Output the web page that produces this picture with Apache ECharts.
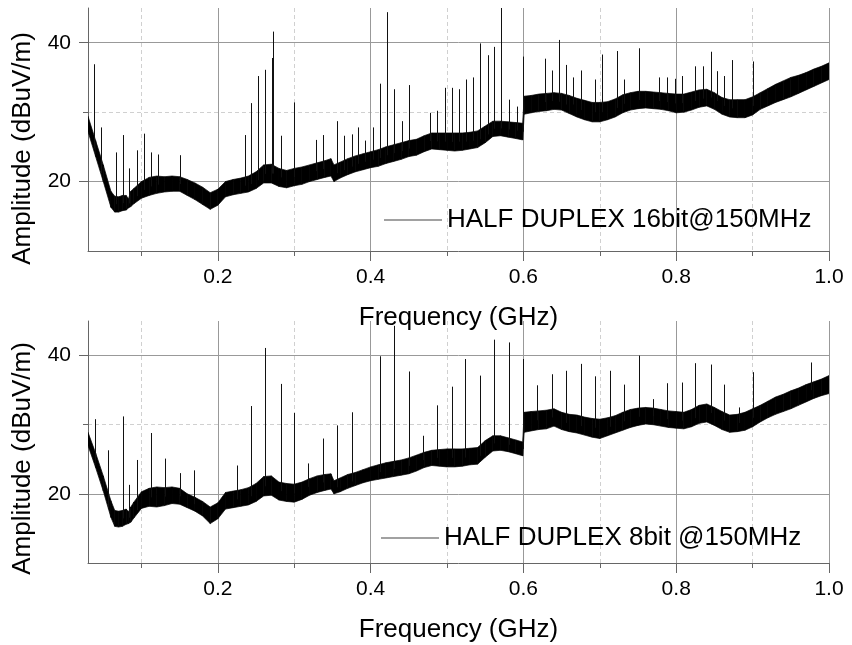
<!DOCTYPE html>
<html>
<head>
<meta charset="utf-8">
<script src="https://cdn.jsdelivr.net/npm/echarts@6/dist/echarts.min.js"></script>
<style>
html,body{margin:0;padding:0;background:#fff;}
#chart{width:852px;height:645px;}
</style>
</head>
<body>
<div id="chart"></div>
<script>
// ---------- DATA ----------
var bandFreq = [0.03,0.04,0.05,0.06,0.065,0.07,0.075,0.08,0.083,0.086,0.09,0.1,0.11,0.12,0.13,0.14,0.15,0.16,0.17,0.18,0.19,0.2,0.21,0.22,0.23,0.24,0.25,0.26,0.27,0.28,0.29,0.30,0.31,0.32,0.33,0.34,0.348,0.352,0.36,0.37,0.38,0.39,0.40,0.41,0.42,0.43,0.44,0.45,0.46,0.47,0.48,0.49,0.50,0.51,0.52,0.53,0.54,0.55,0.56,0.57,0.58,0.59,0.599,0.601,0.61,0.62,0.63,0.64,0.65,0.66,0.67,0.68,0.69,0.70,0.71,0.72,0.73,0.74,0.75,0.76,0.77,0.78,0.79,0.80,0.81,0.82,0.83,0.84,0.85,0.86,0.87,0.88,0.89,0.90,0.91,0.92,0.93,0.94,0.95,0.96,0.97,0.98,0.99,1.0];

var topLow  = [27.2,23.6,20.0,16.3,15.6,15.6,15.8,15.9,16.2,16.4,16.8,17.6,18.0,18.3,18.5,18.6,18.6,18.0,17.4,16.7,16.0,16.6,17.8,18.1,18.3,18.5,19.0,19.8,19.8,19.3,19.1,19.4,19.6,20.0,20.3,20.6,20.8,20.0,20.5,21.0,21.4,21.7,22.0,22.2,22.6,22.9,23.2,23.6,23.8,24.3,24.7,24.6,24.5,24.4,24.5,24.7,24.9,25.6,26.5,26.6,26.4,26.2,26.0,29.7,29.9,30.1,30.2,30.4,30.3,29.8,29.3,28.9,28.6,28.6,28.9,29.3,29.9,30.3,30.5,30.6,30.5,30.4,30.2,29.9,30.0,30.3,30.7,30.9,30.4,29.7,29.3,29.2,29.2,29.6,30.4,30.9,31.4,31.8,32.2,32.7,33.2,33.7,34.2,34.7];
var topHigh = [29.4,25.9,22.4,18.6,17.9,17.8,18.0,18.0,17.5,18.6,19.0,20.0,20.6,20.8,20.7,20.8,20.7,20.3,19.8,19.2,18.4,18.9,20.0,20.3,20.5,20.8,21.4,22.4,22.5,21.9,21.6,21.9,22.1,22.4,22.7,23.0,23.3,22.4,22.8,23.3,23.7,24.0,24.3,24.6,25.0,25.3,25.6,25.9,26.1,26.6,27.0,27.0,27.0,27.0,27.0,27.1,27.3,28.0,28.7,28.7,28.6,28.5,28.4,32.3,32.4,32.6,32.7,32.8,32.7,32.4,32.0,31.7,31.4,31.4,31.5,31.9,32.5,32.8,33.0,33.0,32.9,32.8,32.7,32.6,32.6,32.9,33.2,33.3,32.8,32.1,31.8,31.8,31.8,32.2,32.8,33.4,34.0,34.5,35.0,35.3,35.7,36.2,36.6,37.1];

var botLow  = [27.0,23.8,20.4,16.6,15.3,15.2,15.3,15.6,15.7,15.9,16.5,17.9,18.2,18.1,18.3,18.6,18.5,18.0,17.5,16.8,15.7,16.4,17.8,18.0,18.2,18.4,18.9,19.7,19.8,19.1,18.9,18.8,19.2,19.8,20.2,20.5,20.7,20.0,20.3,20.8,21.2,21.6,21.9,22.1,22.3,22.5,22.7,22.9,23.3,23.8,24.1,24.0,23.9,23.9,24.0,24.2,24.3,25.3,26.2,26.3,26.1,25.8,25.5,28.9,29.1,29.3,29.4,29.8,29.3,29.0,28.8,28.5,28.2,28.0,28.4,28.8,29.2,29.6,29.9,30.1,30.0,29.8,29.6,29.5,29.4,29.7,30.2,30.4,29.9,29.3,28.9,29.0,29.2,29.7,30.4,31.0,31.5,31.9,32.3,32.8,33.3,33.8,34.2,34.5];
var botHigh = [28.9,25.9,22.6,19.0,17.6,17.5,17.6,17.8,17.4,18.1,18.8,20.3,20.8,21.0,20.9,21.0,20.8,20.0,19.5,18.9,18.1,18.7,20.2,20.4,20.6,20.9,21.5,22.5,22.6,21.7,21.5,21.4,21.7,22.2,22.6,22.8,22.9,21.9,22.3,22.8,23.1,23.5,23.9,24.2,24.5,24.7,24.9,25.2,25.6,26.0,26.3,26.4,26.5,26.5,26.5,26.6,26.7,27.7,28.4,28.4,28.1,27.8,27.5,31.8,31.9,32.0,32.1,32.3,31.8,31.5,31.4,31.1,30.9,30.8,31.0,31.3,31.8,32.2,32.4,32.5,32.4,32.2,32.0,31.9,31.8,32.2,32.8,33.0,32.5,31.9,31.4,31.5,31.8,32.3,32.8,33.4,34.0,34.4,34.9,35.3,35.8,36.2,36.6,37.1];

var topSpikeFreq = [0.038,0.047,0.066,0.076,0.084,0.094,0.103,0.113,0.121,0.150,0.235,0.244,0.253,0.262,0.271,0.272,0.282,0.300,0.328,0.337,0.356,0.365,0.375,0.384,0.393,0.403,0.412,0.421,0.431,0.441,0.450,0.478,0.487,0.497,0.506,0.516,0.525,0.534,0.543,0.553,0.562,0.571,0.581,0.591,0.600,0.628,0.637,0.647,0.656,0.665,0.676,0.694,0.703,0.722,0.732,0.751,0.778,0.788,0.798,0.807,0.825,0.835,0.845,0.854,0.863,0.873,0.900];
var topSpikePeak = [36.9,27.8,24.2,26.7,21.9,24.5,26.9,24.2,23.9,23.8,26.7,31.3,35.2,36.1,37.8,41.6,26.6,31.4,26.0,26.7,28.7,26.6,26.8,27.8,25.9,27.8,34.1,44.4,33.3,28.7,33.9,29.9,30.2,33.5,33.5,33.3,34.7,35.0,39.9,38.2,39.4,45.0,31.8,30.8,38.0,37.7,36.0,40.4,36.8,35.0,36.0,34.7,38.3,38.8,34.7,39.2,35.0,35.0,34.8,35.2,36.6,36.6,38.7,35.9,35.2,37.5,37.3];

var botSpikeFreq = [0.039,0.056,0.076,0.084,0.094,0.113,0.131,0.150,0.169,0.225,0.244,0.262,0.282,0.300,0.318,0.337,0.356,0.375,0.412,0.431,0.450,0.468,0.487,0.506,0.524,0.543,0.562,0.581,0.600,0.618,0.637,0.656,0.676,0.694,0.713,0.731,0.751,0.769,0.788,0.807,0.825,0.845,0.863,0.882,0.900,0.976];
var botSpikePeak = [30.8,26.3,31.2,21.3,24.9,28.8,25.1,23.0,23.4,24.1,32.7,41.1,35.9,31.7,24.4,28.0,29.9,31.8,39.9,44.3,37.7,28.4,32.8,35.5,39.5,37.1,42.3,41.9,39.5,35.7,37.3,37.8,38.8,37.0,37.8,35.8,40.0,33.7,36.0,36.1,38.9,38.7,35.8,32.5,37.6,39.0];

var xMajorTicks = [0.2,0.4,0.6,0.8,1.0];
var xMinorTicks = [0.1,0.3,0.5,0.7,0.9];
var yMajorTicks = [20,40];
var yMinorTicks = [30];

var topName = 'HALF DUPLEX 16bit@150MHz';
var botName = 'HALF DUPLEX 8bit @150MHz';
var xTitle = 'Frequency (GHz)';
var yTitle = 'Amplitude (dBuV/m)';

// ---------- BUILD ----------
var FONT = '"Liberation Sans", Arial, sans-serif';

function bandData(lo, hi) {
  var d = [];
  for (var i = 0; i < bandFreq.length - 1; i++) {
    d.push([bandFreq[i], lo[i], hi[i], bandFreq[i+1], lo[i+1], hi[i+1]]);
  }
  return d;
}
function spikeData(freqs, peaks, lo, hi) {
  var d = [];
  for (var i = 0; i < freqs.length; i++) {
    // base: nearest band sample (midpoint of band)
    var best = 0, bd = 1e9;
    for (var j = 0; j < bandFreq.length; j++) {
      var dd = Math.abs(bandFreq[j] - freqs[i]);
      if (dd < bd) { bd = dd; best = j; }
    }
    d.push([freqs[i], (lo[best] + hi[best]) / 2, peaks[i]]);
  }
  return d;
}

function renderBand(params, api) {
  var p0 = api.coord([api.value(0), api.value(2)]);
  var p1 = api.coord([api.value(3), api.value(5)]);
  var p2 = api.coord([api.value(3), api.value(4)]);
  var p3 = api.coord([api.value(0), api.value(1)]);
  return {
    type: 'polygon',
    shape: { points: [p0, p1, p2, p3] },
    style: { fill: '#000', stroke: '#000', lineWidth: 0.7 }
  };
}
function renderSpike(params, api) {
  var a = api.coord([api.value(0), api.value(1)]);
  var b = api.coord([api.value(0), api.value(2)]);
  var x = Math.round(a[0]) + 0.5;
  return {
    type: 'line',
    shape: { x1: x, y1: a[1], x2: x, y2: b[1] },
    style: { stroke: '#111', lineWidth: 1 }
  };
}

var grids = [
  { left: 88, top: 8, width: 741, height: 243 },
  { left: 88, top: 321, width: 741, height: 242 }
];

var xAxes = [], yAxes = [];
var yPads = [38, 33];
for (var g = 0; g < 2; g++) {
  // major x
  xAxes.push({
    type: 'value', gridIndex: g, min: 0.03, max: 1.0, position: 'bottom',
    axisLine: { show: true, onZero: false, lineStyle: { color: '#666', width: 1 } },
    axisTick: { show: true, inside: false, length: 10, customValues: xMajorTicks, lineStyle: { color: '#666' } },
    axisLabel: { show: true, customValues: xMajorTicks, margin: 16, color: '#000', fontSize: 21, fontFamily: FONT,
                 formatter: function (v) { return v.toFixed(1); } },
    splitLine: { show: true, lineStyle: { color: '#999', width: 1, type: 'solid' } },
    name: xTitle, nameLocation: 'middle', nameGap: 54,
    nameTextStyle: { color: '#000', fontSize: 26, fontFamily: FONT }
  });
  // minor x
  xAxes.push({
    type: 'value', gridIndex: g, min: 0.03, max: 1.0, position: 'bottom', offset: 0,
    axisLine: { show: false, onZero: false },
    axisTick: { show: true, inside: false, length: 5, customValues: xMinorTicks, lineStyle: { color: '#666' } },
    axisLabel: { show: false },
    splitLine: { show: true, lineStyle: { color: '#d0d0d0', width: 1, type: [4, 3] } }
  });
  // major y
  yAxes.push({
    type: 'value', gridIndex: g, min: 10, max: 45, position: 'left',
    axisLine: { show: true, onZero: false, lineStyle: { color: '#666', width: 1 } },
    axisTick: { show: true, inside: false, length: 9, customValues: yMajorTicks, lineStyle: { color: '#666' } },
    axisLabel: { show: true, customValues: yMajorTicks, margin: 17, color: '#000', fontSize: 21, fontFamily: FONT },
    splitLine: { show: true, lineStyle: { color: '#999', width: 1, type: 'solid' } },
    name: yTitle, nameLocation: 'middle', nameGap: 52,
    nameTextStyle: { color: '#000', fontSize: 26, fontFamily: FONT, padding: [0, yPads[g], 0, 0] }
  });
  // minor y
  yAxes.push({
    type: 'value', gridIndex: g, min: 10, max: 45, position: 'left', offset: 0,
    axisLine: { show: false, onZero: false },
    axisTick: { show: true, inside: false, length: 5, customValues: yMinorTicks, lineStyle: { color: '#666' } },
    axisLabel: { show: false },
    splitLine: { show: true, lineStyle: { color: '#d0d0d0', width: 1, type: [4, 3] } }
  });
}

var option = {
  backgroundColor: '#fff',
  animation: false,
  grid: grids,
  xAxis: xAxes,
  yAxis: yAxes,
  legend: [
    { data: [{ name: topName, icon: 'rect' }], left: 384, top: 205, padding: 0, itemWidth: 58, itemHeight: 1.2,
      textStyle: { color: '#000', fontSize: 26, fontFamily: FONT, lineHeight: 30 }, selectedMode: false },
    { data: [{ name: botName, icon: 'rect' }], left: 381, top: 523, padding: 0, itemWidth: 58, itemHeight: 1.2,
      textStyle: { color: '#000', fontSize: 26, fontFamily: FONT, lineHeight: 30 }, selectedMode: false }
  ],
  series: [
    { type: 'custom', name: topName, xAxisIndex: 0, yAxisIndex: 0, renderItem: renderBand,
      data: bandData(topLow, topHigh), itemStyle: { color: '#444' }, clip: true, z: 3 },
    { type: 'custom', name: 'topSpikes', xAxisIndex: 0, yAxisIndex: 0, renderItem: renderSpike,
      data: spikeData(topSpikeFreq, topSpikePeak, topLow, topHigh), itemStyle: { color: '#111' }, clip: true, z: 4 },
    { type: 'custom', name: botName, xAxisIndex: 2, yAxisIndex: 2, renderItem: renderBand,
      data: bandData(botLow, botHigh), itemStyle: { color: '#444' }, clip: true, z: 3 },
    { type: 'custom', name: 'botSpikes', xAxisIndex: 2, yAxisIndex: 2, renderItem: renderSpike,
      data: spikeData(botSpikeFreq, botSpikePeak, botLow, botHigh), itemStyle: { color: '#111' }, clip: true, z: 4 }
  ]
};

var chart = echarts.init(document.getElementById('chart'), null, { renderer: 'canvas' });
chart.setOption(option);
</script>
</body>
</html>
